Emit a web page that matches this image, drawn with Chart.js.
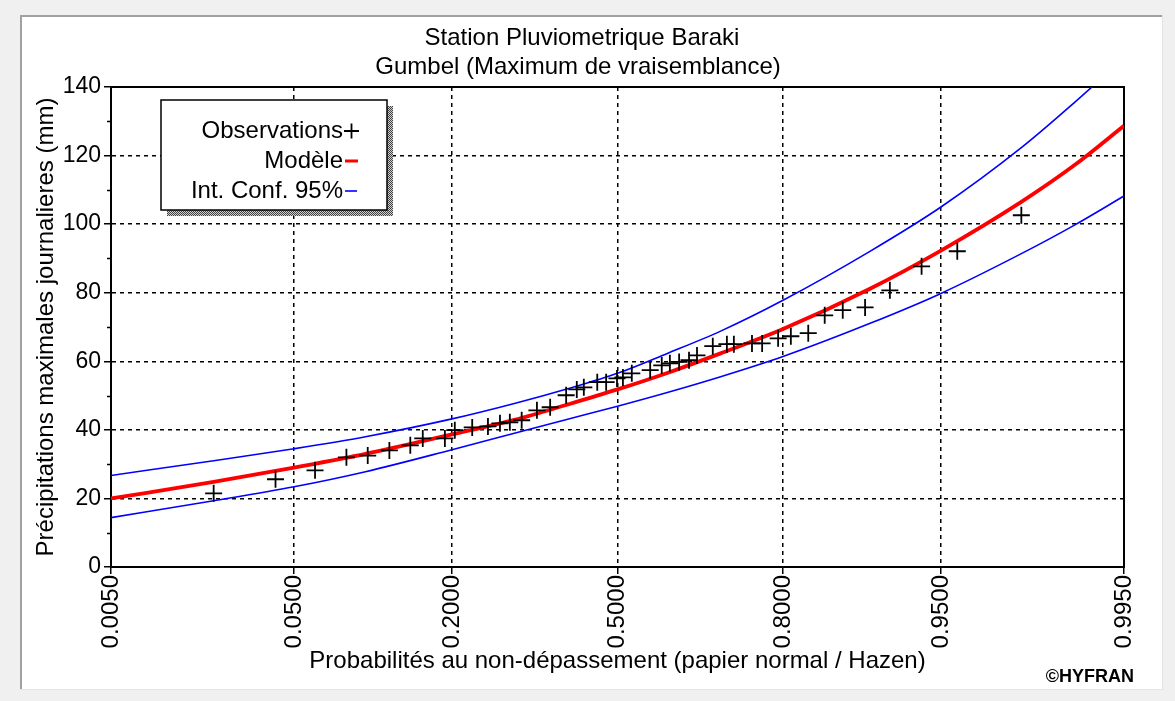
<!DOCTYPE html>
<html>
<head>
<meta charset="utf-8">
<script src="https://cdn.jsdelivr.net/npm/chart.js@4.4.1/dist/chart.umd.min.js"></script>
<style>
  html, body { margin: 0; padding: 0; background: #f0f0f0; }
  canvas { display: block; }
</style>
</head>
<body>
<canvas id="chart" width="1175" height="701"></canvas>
<script>
// --- data (probabilities / mm) ---
const tickProbs = [0.005, 0.05, 0.2, 0.5, 0.8, 0.95, 0.995];

const obsProb = [0.020, 0.041, 0.062, 0.084, 0.102, 0.123, 0.146, 0.161, 0.190, 0.204,
                 0.230, 0.255, 0.275, 0.292, 0.313, 0.341, 0.366, 0.397, 0.418, 0.432,
                 0.459, 0.477, 0.499, 0.511, 0.529, 0.566, 0.589, 0.605, 0.623, 0.642,
                 0.657, 0.686, 0.711, 0.723, 0.753, 0.769, 0.793, 0.811, 0.834, 0.854,
                 0.874, 0.896, 0.917, 0.939, 0.958, 0.980];
const obsValue = [21.5, 25.6, 28.2, 32.0, 32.5, 34.0, 35.5, 37.5, 37.5, 39.9,
                  40.7, 41.0, 41.9, 42.2, 42.8, 45.7, 46.6, 50.1, 51.8, 52.4,
                  53.9, 53.9, 55.0, 55.3, 56.5, 57.4, 58.8, 59.4, 59.8, 60.3,
                  61.7, 64.4, 65.0, 65.0, 65.2, 65.2, 66.7, 67.3, 68.2, 73.4,
                  74.9, 75.7, 80.7, 87.7, 92.1, 102.6];

const curveProb  = [0.005, 0.02, 0.05, 0.1, 0.2, 0.3, 0.4, 0.5, 0.6, 0.7, 0.8, 0.9, 0.95, 0.98, 0.99, 0.995];
const modelValue = [20.0, 24.8, 29.0, 33.0, 38.7, 42.9, 47.4, 51.8, 56.6, 62.3, 69.4, 81.1, 92.3, 106.5, 117.3, 128.7];
const upperValue = [26.7, 31.0, 34.5, 38.0, 43.2, 47.7, 52.0, 56.5, 62.3, 68.8, 77.8, 92.0, 105.0, 122.3, 135.6, 148.5];
const lowerValue = [14.4, 19.3, 23.4, 27.8, 34.2, 39.0, 43.1, 46.9, 50.9, 55.5, 61.4, 71.0, 79.8, 91.4, 99.8, 108.2];

// normal quantile (Acklam) -> x position on "papier normal"
function probit(p) {
  const a = [-39.69683028665376, 220.9460984245205, -275.9285104469687, 138.3577518672690, -30.66479806614716, 2.506628277459239];
  const b = [-54.47609879822406, 161.5858368580409, -155.6989798598866, 66.80131188771972, -13.28068155288572];
  const c = [-0.007784894002430293, -0.3223964580411365, -2.400758277161838, -2.549732539343734, 4.374664141464968, 2.938163982698783];
  const d = [0.007784695709041462, 0.3224671290700398, 2.445134137142996, 3.754408661907416];
  const tail = (q) => (((((c[0]*q+c[1])*q+c[2])*q+c[3])*q+c[4])*q+c[5]) / ((((d[0]*q+d[1])*q+d[2])*q+d[3])*q+1);
  if (p < 0.02425) return tail(Math.sqrt(-2 * Math.log(p)));
  if (p > 1 - 0.02425) return -tail(Math.sqrt(-2 * Math.log(1 - p)));
  const q = p - 0.5, r = q * q;
  return (((((a[0]*r+a[1])*r+a[2])*r+a[3])*r+a[4])*r+a[5])*q / (((((b[0]*r+b[1])*r+b[2])*r+b[3])*r+b[4])*r+1);
}

const toPoints = (probs, vals) => probs.map((p, i) => ({ x: probit(p), y: vals[i] }));

const FONT = '"Liberation Sans", Arial, sans-serif';
const CLEAR = 'rgba(0,0,0,0)';

// shadow pattern for the legend box
function dotPattern(ctx) {
  const c = document.createElement('canvas');
  c.width = 2; c.height = 2;
  const g = c.getContext('2d');
  g.fillStyle = '#d0d0d0'; g.fillRect(0, 0, 2, 2);
  g.fillStyle = '#404040'; g.fillRect(0, 0, 1, 1); g.fillRect(1, 1, 1, 1);
  return ctx.createPattern(c, 'repeat');
}

const decor = {
  id: 'decor',
  beforeDraw(chart) {
    const ctx = chart.ctx;
    ctx.save();
    ctx.fillStyle = '#f0f0f0';
    ctx.fillRect(0, 0, chart.width, chart.height);
    ctx.fillStyle = '#ffffff';
    ctx.fillRect(22, 17, 1140, 672);
    ctx.fillStyle = '#a0a0a0';
    ctx.fillRect(20, 15, 1143, 2);
    ctx.fillRect(20, 15, 2, 675);
    ctx.fillStyle = '#e3e3e3';
    ctx.fillRect(1162, 15, 1, 675);
    ctx.fillRect(20, 689, 1143, 1);
    ctx.restore();
  },
  beforeDatasetsDraw(chart) {
    const ctx = chart.ctx, a = chart.chartArea, y = chart.scales.y;
    ctx.save();
    // minor ticks on the value axis
    ctx.strokeStyle = '#000';
    ctx.lineWidth = 1.5;
    for (let v = 10; v < 140; v += 20) {
      const py = Math.round(y.getPixelForValue(v)) + 0.5;
      ctx.beginPath(); ctx.moveTo(a.left - 4, py); ctx.lineTo(a.left, py); ctx.stroke();
    }
    // closed frame round the plot
    ctx.lineWidth = 2;
    ctx.strokeRect(a.left, a.top, a.right - a.left, a.bottom - a.top);
    ctx.restore();
  },
  afterDraw(chart) {
    const ctx = chart.ctx;
    ctx.save();
    ctx.fillStyle = '#000';
    ctx.textAlign = 'center';
    ctx.textBaseline = 'middle';
    ctx.font = '24px ' + FONT;
    ctx.fillText('Station Pluviometrique Baraki', 582, 38);
    ctx.fillText('Gumbel (Maximum de vraisemblance)', 578, 67);

    // legend box
    const L = 161, T = 100, W = 226, H = 110;
    ctx.fillStyle = dotPattern(ctx);
    ctx.fillRect(L + 6, T + 6, W, H);
    ctx.fillStyle = '#fff';
    ctx.fillRect(L, T, W, H);
    ctx.strokeStyle = '#000';
    ctx.lineWidth = 1.5;
    ctx.strokeRect(L, T, W, H);

    const ds = chart.data.datasets;
    const rows = [ds[0].label, ds[1].label, ds[2].label];
    ctx.fillStyle = '#000';
    ctx.textAlign = 'right';
    ctx.font = '24px ' + FONT;
    rows.forEach((t, i) => ctx.fillText(t, 343, 131 + i * 30));
    // symbols
    ctx.lineWidth = 1.8;
    ctx.beginPath();
    ctx.moveTo(344, 131); ctx.lineTo(359, 131);
    ctx.moveTo(351.5, 123.5); ctx.lineTo(351.5, 138.5);
    ctx.stroke();
    ctx.strokeStyle = ds[1].borderColor; ctx.lineWidth = 3;
    ctx.beginPath(); ctx.moveTo(345, 161); ctx.lineTo(358, 161); ctx.stroke();
    ctx.strokeStyle = ds[2].borderColor; ctx.lineWidth = 1.6;
    ctx.beginPath(); ctx.moveTo(345, 191); ctx.lineTo(357, 191); ctx.stroke();

    ctx.fillStyle = '#000';
    ctx.font = 'bold 18px ' + FONT;
    ctx.textAlign = 'right';
    ctx.fillText('\u00a9HYFRAN', 1134, 677);
    ctx.restore();
  }
};

new Chart(document.getElementById('chart'), {
  type: 'line',
  data: {
    datasets: [
      {
        label: 'Observations',
        data: toPoints(obsProb, obsValue),
        showLine: false,
        pointStyle: 'cross',
        pointRadius: 8.5,
        pointBorderWidth: 1.8,
        pointBorderColor: '#000',
        borderColor: '#000'
      },
      {
        label: 'Modèle',
        data: toPoints(curveProb, modelValue),
        borderColor: '#ff0000',
        borderWidth: 3.8,
        pointRadius: 0,
        cubicInterpolationMode: 'monotone'
      },
      {
        label: 'Int. Conf. 95%',
        data: toPoints(curveProb, upperValue),
        borderColor: '#0000ff',
        borderWidth: 1.6,
        pointRadius: 0,
        cubicInterpolationMode: 'monotone'
      },
      {
        label: 'Int. Conf. 95% (inf)',
        data: toPoints(curveProb, lowerValue),
        borderColor: '#0000ff',
        borderWidth: 1.6,
        pointRadius: 0,
        cubicInterpolationMode: 'monotone'
      }
    ]
  },
  options: {
    responsive: false,
    animation: false,
    events: [],
    layout: { padding: { left: 0, top: 87, right: 51, bottom: 24 } },
    plugins: {
      legend: { display: false },
      tooltip: { enabled: false },
      title: { display: false }
    },
    scales: {
      x: {
        type: 'linear',
        min: probit(tickProbs[0]),
        max: probit(tickProbs[tickProbs.length - 1]),
        afterBuildTicks: (s) => { s.ticks = tickProbs.map(p => ({ value: probit(p) })); },
        afterFit: (s) => { s.height = 110; },
        ticks: {
          autoSkip: false,
          minRotation: 90,
          maxRotation: 90,
          padding: 1,
          color: '#000',
          font: { family: FONT, size: 24 },
          callback: (v, i) => tickProbs[i].toFixed(4)
        },
        grid: {
          color: (c) => (c.index === 0 || c.index === tickProbs.length - 1) ? CLEAR : '#000',
          tickColor: '#000',
          tickLength: 7,
          lineWidth: 1.5,
          tickWidth: 1.5
        },
        border: { color: '#000', width: 2, dash: [4, 4] },
        title: {
          display: true,
          text: 'Probabilités au non-dépassement (papier normal / Hazen)',
          color: '#000',
          font: { family: FONT, size: 24 },
          padding: { top: 0, bottom: 1 }
        }
      },
      y: {
        min: 0,
        max: 140,
        afterFit: (s) => { s.width = 111; },
        ticks: {
          stepSize: 20,
          padding: 3,
          color: '#000',
          font: { family: FONT, size: 23 }
        },
        grid: {
          color: (c) => (c.tick && (c.tick.value === 0 || c.tick.value === 140)) ? CLEAR : '#000',
          tickColor: '#000',
          tickLength: 7,
          lineWidth: 1.5,
          tickWidth: 1.5
        },
        border: { color: '#000', width: 2, dash: [4, 4] },
        title: {
          display: true,
          text: 'Précipitations maximales journalieres (mm)',
          color: '#000',
          font: { family: FONT, size: 24 },
          padding: { top: 32, bottom: 0 }
        }
      }
    }
  },
  plugins: [decor]
});
</script>
</body>
</html>
